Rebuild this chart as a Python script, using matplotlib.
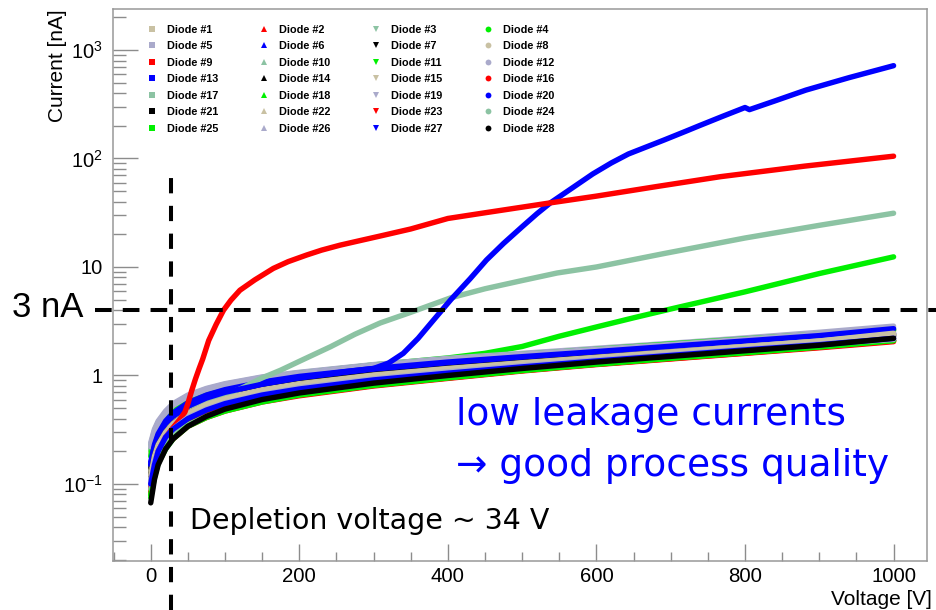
import matplotlib
matplotlib.use('Agg')
import matplotlib.pyplot as plt
from matplotlib.lines import Line2D
from matplotlib.ticker import FixedLocator, FixedFormatter, LogLocator, NullFormatter, MultipleLocator

plt.rcParams['font.family'] = ['Liberation Sans', 'DejaVu Sans']
plt.rcParams['mathtext.fontset'] = 'custom'
plt.rcParams['mathtext.rm'] = 'Liberation Sans'
plt.rcParams['mathtext.it'] = 'Liberation Sans:italic'
plt.rcParams['mathtext.bf'] = 'Liberation Sans:bold'
plt.rcParams['lines.scale_dashes'] = False

# ---------------- data ----------------
volts = [0, 5, 10, 20, 30, 50, 75, 100, 150, 200, 300, 400, 500, 600, 700, 800, 900, 1000]

d1 = [0.20, 0.28, 0.34, 0.43, 0.50, 0.61, 0.71, 0.79, 0.92, 1.02, 1.20, 1.37, 1.52, 1.69, 1.88, 2.08, 2.32, 2.60]
d2 = [0.09, 0.14, 0.18, 0.24, 0.29, 0.37, 0.44, 0.51, 0.61, 0.70, 0.85, 0.99, 1.14, 1.30, 1.46, 1.64, 1.85, 2.10]
d3 = [0.23, 0.31, 0.37, 0.46, 0.54, 0.65, 0.75, 0.83, 0.96, 1.06, 1.25, 1.42, 1.58, 1.75, 1.94, 2.15, 2.38, 2.65]
d5 = [0.24, 0.32, 0.38, 0.47, 0.55, 0.66, 0.76, 0.84, 0.97, 1.07, 1.26, 1.44, 1.60, 1.78, 1.98, 2.22, 2.50, 2.85]
d6 = [0.15, 0.21, 0.27, 0.35, 0.42, 0.52, 0.62, 0.70, 0.82, 0.92, 1.09, 1.25, 1.40, 1.56, 1.75, 1.95, 2.17, 2.45]
d7 = [0.14, 0.20, 0.25, 0.32, 0.38, 0.47, 0.56, 0.63, 0.75, 0.85, 1.02, 1.17, 1.32, 1.48, 1.65, 1.85, 2.07, 2.40]
d8 = [0.19, 0.27, 0.33, 0.42, 0.49, 0.60, 0.70, 0.78, 0.91, 1.01, 1.19, 1.36, 1.51, 1.68, 1.86, 2.06, 2.30, 2.58]
d9 = [0.08, 0.12, 0.16, 0.22, 0.26, 0.34, 0.41, 0.47, 0.57, 0.65, 0.80, 0.94, 1.10, 1.26, 1.42, 1.60, 1.80, 2.05]
d10 = [0.21, 0.29, 0.35, 0.44, 0.51, 0.62, 0.72, 0.80, 0.93, 1.03, 1.21, 1.38, 1.54, 1.71, 1.90, 2.10, 2.33, 2.60]
d11 = [0.18, 0.26, 0.32, 0.41, 0.49, 0.60, 0.71, 0.79, 0.93, 1.04, 1.23, 1.40, 1.56, 1.74, 1.95, 2.17, 2.40, 2.65]
d12 = [0.22, 0.30, 0.36, 0.45, 0.53, 0.64, 0.74, 0.82, 0.95, 1.05, 1.24, 1.41, 1.57, 1.74, 1.93, 2.16, 2.42, 2.75]
d13 = [0.16, 0.23, 0.29, 0.38, 0.45, 0.56, 0.66, 0.74, 0.87, 0.98, 1.16, 1.33, 1.49, 1.66, 1.86, 2.08, 2.33, 2.70]
d14 = [0.13, 0.19, 0.24, 0.31, 0.37, 0.46, 0.55, 0.62, 0.74, 0.84, 1.00, 1.15, 1.30, 1.46, 1.63, 1.82, 2.04, 2.35]
d15 = [0.13, 0.19, 0.24, 0.31, 0.37, 0.46, 0.55, 0.62, 0.74, 0.84, 1.01, 1.16, 1.31, 1.47, 1.65, 1.85, 2.08, 2.45]
d16 = [0.085, 0.13, 0.17, 0.23, 0.27, 0.35, 0.42, 0.48, 0.58, 0.66, 0.81, 0.95, 1.11, 1.27, 1.43, 1.61, 1.82, 2.08]
d18 = [0.08, 0.12, 0.16, 0.22, 0.27, 0.35, 0.42, 0.48, 0.58, 0.67, 0.82, 0.96, 1.12, 1.28, 1.45, 1.63, 1.84, 2.10]
d19 = [0.11, 0.17, 0.22, 0.29, 0.34, 0.43, 0.51, 0.58, 0.70, 0.80, 0.96, 1.11, 1.26, 1.42, 1.59, 1.78, 2.00, 2.25]
d21 = [0.12, 0.18, 0.23, 0.30, 0.36, 0.45, 0.53, 0.60, 0.72, 0.82, 0.98, 1.13, 1.28, 1.44, 1.61, 1.80, 2.02, 2.30]
d22 = [0.12, 0.18, 0.23, 0.30, 0.36, 0.45, 0.54, 0.61, 0.73, 0.83, 1.00, 1.15, 1.30, 1.46, 1.64, 1.84, 2.06, 2.40]
d24 = [0.09, 0.13, 0.17, 0.23, 0.28, 0.35, 0.42, 0.48, 0.58, 0.67, 0.82, 0.96, 1.12, 1.29, 1.46, 1.65, 1.87, 2.15]
d25 = [0.075, 0.115, 0.155, 0.21, 0.26, 0.34, 0.41, 0.47, 0.57, 0.66, 0.81, 0.95, 1.11, 1.27, 1.44, 1.62, 1.83, 2.10]
d26 = [0.10, 0.16, 0.20, 0.27, 0.32, 0.41, 0.49, 0.56, 0.67, 0.77, 0.93, 1.08, 1.23, 1.39, 1.56, 1.75, 1.95, 2.15]
d27 = [0.10, 0.15, 0.20, 0.27, 0.32, 0.40, 0.48, 0.55, 0.66, 0.75, 0.91, 1.05, 1.20, 1.36, 1.53, 1.72, 1.92, 2.20]
d28 = [0.067, 0.11, 0.15, 0.21, 0.26, 0.34, 0.42, 0.49, 0.60, 0.69, 0.85, 1.00, 1.16, 1.33, 1.50, 1.69, 1.90, 2.20]

# outliers (own voltage grids)
v_d4 = [0, 5, 10, 20, 30, 50, 75, 100, 150, 200, 300, 400, 450, 500, 550, 600, 650, 700, 800, 900, 1000]
d4 = [0.20, 0.27, 0.33, 0.42, 0.50, 0.61, 0.72, 0.80, 0.94, 1.05, 1.25, 1.45, 1.60, 1.85, 2.30, 2.80, 3.40, 4.10, 5.90, 8.70, 12.4]

v_d17 = [0, 5, 10, 20, 30, 40, 60, 80, 100, 120, 150, 175, 200, 242, 275, 309, 350, 404, 450, 500, 547, 600, 691, 800, 900, 1000]
d17 = [0.11, 0.17, 0.22, 0.30, 0.35, 0.40, 0.50, 0.60, 0.67, 0.75, 0.95, 1.12, 1.35, 1.84, 2.40, 3.05, 3.82, 5.20, 6.30, 7.50, 8.80, 10.0, 13.3, 18.5, 24.2, 31.3]

v_d20 = [0, 5, 10, 20, 30, 50, 75, 100, 150, 200, 260, 280, 300, 320, 340, 360, 380, 404, 430, 452, 475, 500, 520, 538,
         570, 595, 620, 643, 670, 691, 720, 738, 770, 800, 806, 840, 882, 940, 1000]
d20 = [0.15, 0.22, 0.28, 0.36, 0.42, 0.52, 0.62, 0.70, 0.83, 0.95, 1.08, 1.12, 1.16, 1.30, 1.60, 2.20, 3.20, 5.00, 7.80, 11.6, 16.5, 23.5, 31.0, 39.0,
       55.0, 72.0, 91.0, 110, 130, 148, 178, 200, 245, 295, 282, 339, 427, 556, 717]

v_d23 = [0, 5, 10, 20, 30, 40, 46, 50, 55, 60, 65, 70, 78, 88, 98, 108, 120, 140, 165, 185, 210, 230, 255, 280, 309, 350,
         400, 450, 538, 600, 680, 767, 880, 1000]
d23 = [0.095, 0.15, 0.20, 0.27, 0.33, 0.40, 0.46, 0.55, 0.72, 0.92, 1.15, 1.42, 2.10, 2.95, 4.00, 4.95, 6.10, 7.60, 9.70, 11.2, 12.9, 14.3, 15.9, 17.4, 19.3, 22.4,
       28.0, 31.6, 39.0, 45.0, 55.0, 68.0, 85.0, 105]

threshold_current = 4.0      # "3 nA" guide line position
depletion_guide_v = 27.5     # vertical guide line position

# ---------------- styling ----------------
TAN = '#c9c1a3'
RED = '#ff0000'
TEAL = '#8cc3a3'
GREEN = '#00f000'
LAV = '#aaaacb'
BLUE = '#0000ff'
BLACK = '#000000'
palette = [TAN, RED, TEAL, GREEN, LAV, BLUE, BLACK]
marker_cycle = ['s', '^', 'v', 'o']

curves = {
    1: (volts, d1), 2: (volts, d2), 3: (volts, d3), 4: (v_d4, d4),
    5: (volts, d5), 6: (volts, d6), 7: (volts, d7), 8: (volts, d8),
    9: (volts, d9), 10: (volts, d10), 11: (volts, d11), 12: (volts, d12),
    13: (volts, d13), 14: (volts, d14), 15: (volts, d15), 16: (volts, d16),
    17: (v_d17, d17), 18: (volts, d18), 19: (volts, d19), 20: (v_d20, d20),
    21: (volts, d21), 22: (volts, d22), 23: (v_d23, d23), 24: (volts, d24),
    25: (volts, d25), 26: (volts, d26), 27: (volts, d27), 28: (volts, d28),
}

fig = plt.figure(figsize=(9.36, 6.10), dpi=100)
fig.patch.set_facecolor('white')
ax = fig.add_axes([113.3 / 936, 49 / 610, 813.7 / 936, 551.7 / 610])

handles = {}
for n in range(1, 29):
    v, cur = curves[n]
    col = palette[(n - 1) % 7]
    mk = marker_cycle[(n - 1) % 4]
    ax.plot(v, cur, color=col, lw=3.9, solid_capstyle='round', solid_joinstyle='round', zorder=2)
    handles[n] = Line2D([], [], color=col, marker=mk, linestyle='None', markersize=4.2,
                        markeredgewidth=0)

ax.set_yscale('log')
ax.set_xlim(-50.4, 1045)
ax.set_ylim(0.0195, 2372)

ax.yaxis.set_major_locator(FixedLocator([0.1, 1, 10, 100, 1000]))
ax.yaxis.set_major_formatter(FixedFormatter([r'$\mathregular{10^{-1}}$', '1', '10',
                                             r'$\mathregular{10^{2}}$', r'$\mathregular{10^{3}}$']))
ax.yaxis.set_minor_locator(LogLocator(base=10, subs=[2, 3, 4, 5, 6, 7, 8, 9], numticks=20))
ax.yaxis.set_minor_formatter(NullFormatter())
ax.xaxis.set_major_locator(MultipleLocator(200))
ax.xaxis.set_minor_locator(MultipleLocator(50))

tick_col = '#8c8c8c'
ax.tick_params(axis='y', which='major', direction='in', length=18, width=1.0, color=tick_col,
               labelsize=14.5, pad=7.5, labelcolor='black')
ax.tick_params(axis='y', which='minor', direction='in', length=9, width=1.0, color=tick_col)
ax.tick_params(axis='x', which='major', direction='in', length=12, width=1.0, color=tick_col,
               labelsize=14.7, pad=4, labelcolor='black')
ax.tick_params(axis='x', which='minor', direction='in', length=6.3, width=1.0, color=tick_col)
ax.tick_params(top=False, right=False, which='both')
for sp in ax.spines.values():
    sp.set_color('#999999')
    sp.set_linewidth(1.1)

ax.set_xlabel('Voltage [V]', fontsize=15, loc='right')
ax.xaxis.set_label_coords(1.006, -0.052)
ax.xaxis.label.set_va('top')
ax.set_ylabel('Current [nA]', fontsize=15, loc='top')
ax.yaxis.set_label_coords(-0.057, 1.0)

# legend: row-major order in a 4-column layout
order = [4 * r + c + 1 for c in range(4) for r in range(7)]
leg = ax.legend([handles[n] for n in order], [f'Diode #{n}' for n in order],
                ncol=4, loc='upper left', bbox_to_anchor=(0.0419, 0.972),
                frameon=False, prop={'family': 'Liberation Sans', 'weight': 'bold', 'size': 7.8},
                handlelength=0.8, handletextpad=1.0, columnspacing=3.8, labelspacing=0.6,
                borderaxespad=0, borderpad=0)

# guide lines
ax.plot([-75, 1058], [threshold_current, threshold_current], color='black', lw=2.9,
        dashes=(12, 8), clip_on=False, zorder=5)
ax.plot([depletion_guide_v, depletion_guide_v], [0.0069, 82], color='black', lw=2.9,
        dashes=(11, 9), clip_on=False, zorder=5)

# annotations
fig.text(12 / 936, (610 - 317.3) / 610, '3 nA', fontsize=25, family='Liberation Sans',
         ha='left', va='baseline')
fig.text(190 / 936, (610 - 529) / 610, 'Depletion voltage ~ 34 V', fontsize=20.5,
         family='DejaVu Sans', ha='left', va='baseline')
fig.text(456 / 936, (610 - 425) / 610, 'low leakage currents', fontsize=27,
         family='DejaVu Sans', color='#0000ff', ha='left', va='baseline')
fig.text(456 / 936, (610 - 476) / 610, '\u2192 good process quality', fontsize=27,
         family='DejaVu Sans', color='#0000ff', ha='left', va='baseline')

fig.savefig('out.png', dpi=100, facecolor='white')
